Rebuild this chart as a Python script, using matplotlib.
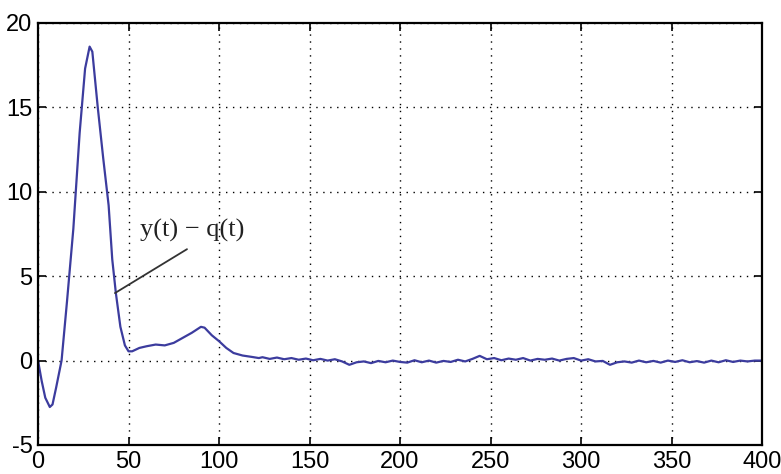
import matplotlib
matplotlib.use('Agg')
import matplotlib.pyplot as plt
import numpy as np

plt.rcParams['axes.unicode_minus'] = False

# transient part
t_main = [0, 2, 4, 6.5, 8, 10, 13, 16, 19.5, 23, 26, 28.5, 30, 33, 36, 39, 41, 43,
          45.5, 48, 50, 52, 56, 60, 65, 70, 75, 80, 85, 90, 92, 96, 100, 104, 108,
          113, 118, 122]
y_main = [0.0, -1.2, -2.2, -2.75, -2.6, -1.6, 0.0, 3.5, 7.8, 13.5, 17.3, 18.6, 18.3,
          15.0, 12.0, 9.2, 6.0, 4.0, 2.0, 0.9, 0.55, 0.55, 0.75, 0.85, 0.95, 0.9,
          1.05, 1.35, 1.65, 2.0, 1.95, 1.5, 1.15, 0.75, 0.45, 0.3, 0.22, 0.15]

# small residual ripple after t = 124
t_tail = list(range(124, 401, 4))
y_tail = [0.2, 0.1, 0.18, 0.08, 0.15, 0.05, 0.12, 0.02, 0.1, 0.0, 0.08, -0.05,
          -0.25, -0.1, -0.05, -0.15, -0.02, -0.1, 0.0, -0.08, -0.12, 0.02, -0.1,
          0.0, -0.12, -0.02, -0.08, 0.05, -0.05, 0.1, 0.28, 0.08, 0.15, 0.02, 0.12,
          0.05, 0.15, 0.0, 0.1, 0.05, 0.12, 0.0, 0.1, 0.15, 0.0, 0.08, -0.05, -0.02,
          -0.25, -0.1, -0.05, -0.12, 0.0, -0.1, -0.02, -0.12, 0.0, -0.08, 0.02,
          -0.1, -0.03, -0.12, 0.0, -0.1, 0.02, -0.08, 0.0, -0.05, 0.0, 0.0]

t = np.array(t_main + t_tail)
y = np.array(y_main + y_tail)

x_ticks = [0, 50, 100, 150, 200, 250, 300, 350, 400]
y_ticks = [-5, 0, 5, 10, 15, 20]

LINE_BLUE = '#3c3c9e'

fig = plt.figure(figsize=(7.81, 4.74), dpi=100)
ax = fig.add_axes([0.0487, 0.0612, 0.9270, 0.8903])

ax.plot(t, y, color=LINE_BLUE, linewidth=1.6)

ax.set_xlim(0, 400)
ax.set_ylim(-5, 20)
ax.set_xticks(x_ticks)
ax.set_yticks(y_ticks)

# MATLAB-ish look: dotted grid, inward ticks on every side
ax.grid(True, linestyle=(0, (1, 4)), color='black', linewidth=1.0)
ax.tick_params(direction='in', top=True, right=True, length=6, width=1.2,
               labelsize=17, pad=4)
for lbl in ax.get_xticklabels() + ax.get_yticklabels():
    lbl.set_family('Liberation Sans')
for spine in ax.spines.values():
    spine.set_linewidth(1.6)

# annotation leader line + label
ax.annotate('', xy=(42.5, 4.0), xytext=(82.3, 6.6),
            arrowprops=dict(arrowstyle='-', color='#333333', linewidth=1.3,
                            shrinkA=0, shrinkB=0))
ax.text(56.5, 7.7, 'y(t) \u2212 q(t)', family='Liberation Serif', fontsize=19,
        ha='left', va='center', color='#222222')

fig.savefig('out.png', dpi=100)
